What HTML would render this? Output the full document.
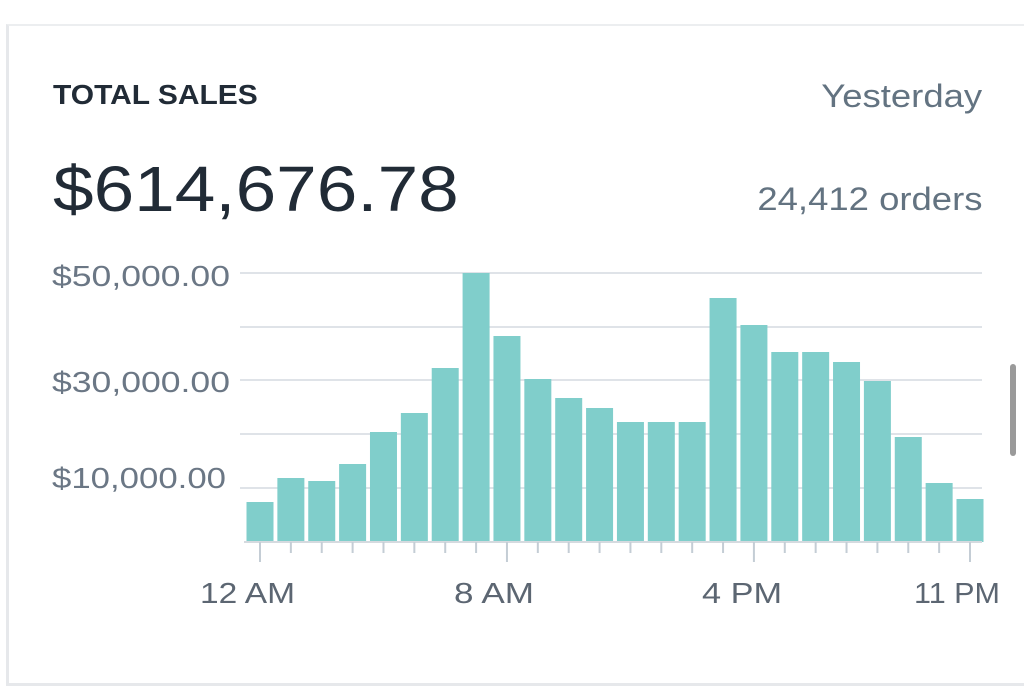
<!DOCTYPE html>
<html><head><meta charset="utf-8"><style>
html,body{margin:0;padding:0;background:#fff;}
body{width:1024px;height:684px;position:relative;overflow:hidden;font-family:"Liberation Sans",sans-serif;}
.card{position:absolute;left:6px;top:24px;width:1030px;height:657px;border-top:2px solid #eceef0;border-left:3px solid #e6e8eb;border-bottom:3px solid #e6e8eb;}
.t{position:absolute;white-space:nowrap;}
</style></head><body>
<div class="card"></div>
<div class="t" style="left:53px;top:79px;font-size:28px;font-weight:bold;color:#212b36;transform:scaleX(1.07);transform-origin:left;">TOTAL SALES</div>
<div class="t" style="right:42px;top:78px;font-size:32px;color:#637381;transform:scaleX(1.14);transform-origin:right;">Yesterday</div>
<div class="t" style="left:53px;top:152px;font-size:64px;color:#212b36;transform:scaleX(1.14);transform-origin:left;">$614,676.78</div>
<div class="t" style="right:42px;top:181px;font-size:32px;color:#637381;transform:scaleX(1.14);transform-origin:right;">24,412 orders</div>
<div style="position:absolute;left:1010px;top:364px;width:6px;height:92px;background:#9a9a9a;border-radius:3px;"></div>
<svg width="1024" height="684" style="position:absolute;left:0;top:0" font-family="Liberation Sans, sans-serif">
<g stroke="#dfe3e8" stroke-width="2">
<line x1="240" x2="982" y1="273" y2="273"/><line x1="240" x2="982" y1="327" y2="327"/><line x1="240" x2="982" y1="380" y2="380"/><line x1="240" x2="982" y1="434" y2="434"/><line x1="240" x2="982" y1="488" y2="488"/>
</g>
<g font-size="29" fill="#6b7785" textLength="178">
<text x="52" y="286" textLength="178" lengthAdjust="spacingAndGlyphs">$50,000.00</text>
<text x="52" y="392" textLength="178" lengthAdjust="spacingAndGlyphs">$30,000.00</text>
<text x="52" y="488" textLength="174" lengthAdjust="spacingAndGlyphs">$10,000.00</text>
</g>
<g fill="#80cecb" id="bars"></g>
<line x1="244" x2="982" y1="542" y2="542" stroke="#d5dadf" stroke-width="2"/>
<g stroke="#c4cdd5" stroke-width="2" id="ticks"></g>
<g font-size="29" fill="#5c6672">
<text x="200" y="603" textLength="95" lengthAdjust="spacingAndGlyphs">12 AM</text>
<text x="454" y="603" textLength="80" lengthAdjust="spacingAndGlyphs">8 AM</text>
<text x="702" y="603" textLength="80" lengthAdjust="spacingAndGlyphs">4 PM</text>
<text x="914" y="603" textLength="86" lengthAdjust="spacingAndGlyphs">11 PM</text>
</g>
</svg>
<script>
var tops=[502,478,481,464,432,413,368,273,336,379,398,408,422,422,422,298,325,352,352,362,381,437,483,499];
var b=document.getElementById('bars'),tk=document.getElementById('ticks'),ns='http://www.w3.org/2000/svg';
for(var i=0;i<24;i++){var c=260+i*30.87;var r=document.createElementNS(ns,'rect');r.setAttribute('x',c-13.5);r.setAttribute('width',27);r.setAttribute('y',tops[i]);r.setAttribute('height',542-tops[i]);b.appendChild(r);
var l=document.createElementNS(ns,'line');var maj=(i==0||i==8||i==16||i==23);l.setAttribute('x1',c);l.setAttribute('x2',c);l.setAttribute('y1',542);l.setAttribute('y2',maj?562:553);tk.appendChild(l);}
</script>
</body></html>
